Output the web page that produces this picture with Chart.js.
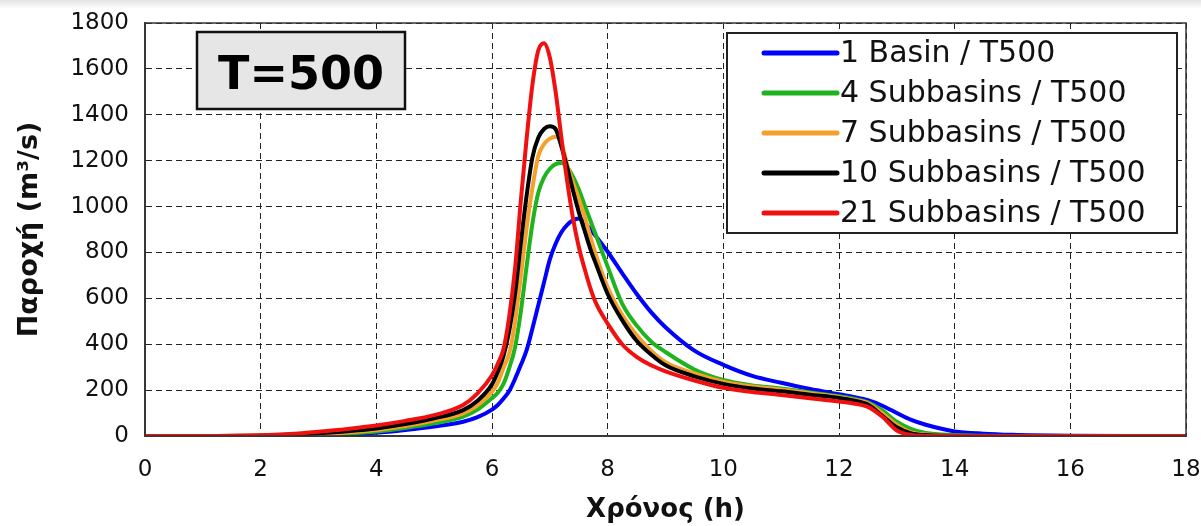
<!DOCTYPE html>
<html>
<head>
<meta charset="utf-8">
<script src="https://cdn.jsdelivr.net/npm/chart.js@4.4.1/dist/chart.umd.min.js"></script>
<style>
  html, body { margin: 0; padding: 0; background: #fff; }
  #wrap { width: 1201px; height: 526px; background: linear-gradient(#e4e4e4, #fff 9px); }
</style>
</head>
<body>
<div id="wrap"><canvas id="chart" width="1201" height="526"></canvas></div>
<script>
// time axis (h)
const times = [0,1,2,2.5,3,3.5,4,4.5,5,5.5, 5.75,6,6.1,6.2,6.3,6.4,6.5,6.6,6.7,6.8,
  6.9,7.0,7.1,7.2,7.3,7.4,7.5,7.6,7.7,7.8, 8.0,8.25,8.5,8.75,9,9.5,10,10.5,11,11.5,
  12,12.25,12.5,12.75,13,13.25,13.5,14,14.5,15, 16,17,18];

// discharge (m3/s) per model setup
const basin1 = [0,0,0,0,2,7,14,26,41,62, 82,115,135,163,197,250,310,375,470,570,
  670,770,838,888,920,940,948,932,900,870, 803,710,620,540,474,372,310,262,232,205,
  182,170,156,132,100,70,49,20,10,5, 1,0,0];
const subbasins4 = [0,0,0,2,4,11,20,35,55,84, 115,165,188,228,298,388,545,742,928,1060,
  1127,1165,1185,1190,1172,1130,1075,1007,940,873, 738,577,482,412,366,290,244,220,207,190,
  173,162,147,111,62,30,13,4,1,0, 0,0,0];
const subbasins7 = [0,0,1,3,7,15,26,43,67,99, 135,193,232,298,362,500,700,909,1083,1220,
  1272,1296,1304,1275,1182,1105,1035,957,870,786, 648,528,440,372,322,273,237,216,203,186,
  169,158,143,99,48,16,7,2,0,0, 0,0,0];
const subbasins10 = [0,0,1,5,12,21,33,52,77,113, 154,225,280,350,461,622,844,1050,1215,1300,
  1338,1350,1338,1262,1170,1070,976,896,816,748, 619,505,415,355,308,260,227,207,195,180,
  166,155,137,88,38,11,4,1,0,0, 0,0,0];
const subbasins21 = [0,0,3,9,19,31,46,66,91,135, 186,265,315,380,525,733,1030,1300,1533,1680,
  1712,1650,1500,1300,1110,950,825,730,645,578, 490,400,345,308,282,242,210,192,179,165,
  150,142,127,84,24,4,1,0,0,0, 0,0,0];

const seriesNames = ["1 Basin / T500", "4 Subbasins / T500", "7 Subbasins / T500",
  "10 Subbasins / T500", "21 Subbasins / T500"];
const seriesValues = [basin1, subbasins4, subbasins7, subbasins10, subbasins21];
const seriesColors = ["#0000ff", "#1fb31f", "#f5a02a", "#000000", "#f01010"];

const yTicks = { min: 0, max: 1800, step: 200 };
const xTicks = { min: 0, max: 18, step: 2 };
const boxTitle = "T=500";

const FONT = "'DejaVu Sans', Verdana, sans-serif";

const datasets = seriesValues.map((vals, i) => ({
  label: seriesNames[i],
  data: times.map((t, k) => ({ x: t, y: vals[k] })),
  borderColor: seriesColors[i],
  borderWidth: 4,
  pointRadius: 0,
  fill: false,
  cubicInterpolationMode: "monotone",
  order: seriesValues.length - i   // last series drawn on top
}));

// frame, title box and legend box drawn on top
const decorations = {
  id: "decorations",
  afterDraw(chart) {
    const ctx = chart.ctx;
    const a = chart.chartArea;
    ctx.save();
    ctx.strokeStyle = "#333";
    ctx.lineWidth = 1.5;
    ctx.strokeRect(a.left, a.top, a.right - a.left, a.bottom - a.top);

    // T=500 box
    ctx.fillStyle = "#e6e6e6";
    ctx.fillRect(197, 32, 208, 77);
    ctx.strokeStyle = "#111";
    ctx.lineWidth = 2.5;
    ctx.strokeRect(197, 32, 208, 77);
    ctx.fillStyle = "#000";
    ctx.font = "bold 46px " + FONT;
    ctx.textAlign = "center";
    ctx.textBaseline = "alphabetic";
    ctx.fillText(boxTitle, 301, 89);

    // legend
    ctx.fillStyle = "#fff";
    ctx.fillRect(727, 33, 450, 200);
    ctx.strokeStyle = "#222";
    ctx.lineWidth = 2;
    ctx.strokeRect(727, 33, 450, 200);
    ctx.font = "30px " + FONT;
    ctx.textAlign = "left";
    ctx.textBaseline = "middle";
    seriesNames.forEach((name, i) => {
      const y = 53 + i * 40;
      ctx.strokeStyle = seriesColors[i];
      ctx.lineWidth = 5;
      ctx.lineCap = "round";
      ctx.beginPath();
      ctx.moveTo(764, y);
      ctx.lineTo(837, y);
      ctx.stroke();
      ctx.fillStyle = "#111";
      ctx.fillText(name, 840, y + 1);
    });
    ctx.restore();
  }
};

new Chart(document.getElementById("chart"), {
  type: "line",
  data: { datasets },
  plugins: [decorations],
  options: {
    responsive: false,
    animation: false,
    devicePixelRatio: 1,
    layout: { padding: { top: 23, right: 15, left: 0, bottom: 0 } },
    plugins: { legend: { display: false }, tooltip: { enabled: false } },
    scales: {
      x: {
        type: "linear",
        min: xTicks.min,
        max: xTicks.max,
        afterFit: s => { s.height = 90; s.paddingLeft = 0; s.paddingRight = 0; },
        ticks: { stepSize: xTicks.step, color: "#111", font: { family: FONT, size: 23 }, padding: 20,
                 callback: v => String(v) },
        grid: { color: "#222", lineWidth: 1, drawTicks: false },
        border: { color: "#444", width: 2, dash: [6, 4] },
        title: { display: true, text: "Χρόνος (h)", color: "#111",
                 font: { family: FONT, size: 26, weight: "bold" }, padding: { bottom: 0 } }
      },
      y: {
        min: yTicks.min,
        max: yTicks.max,
        afterFit: s => { s.width = 145; s.paddingTop = 0; s.paddingBottom = 0; },
        ticks: { stepSize: yTicks.step, color: "#111", font: { family: FONT, size: 23 }, padding: 16,
                 callback: v => String(v) },
        grid: { color: "#222", lineWidth: 1, drawTicks: false },
        border: { color: "#444", width: 2, dash: [6, 4] },
        title: { display: true, text: "Παροχή (m³/s)", color: "#111",
                 font: { family: FONT, size: 27, weight: "bold" }, padding: { top: 14 } }
      }
    }
  }
});
</script>
</body>
</html>
